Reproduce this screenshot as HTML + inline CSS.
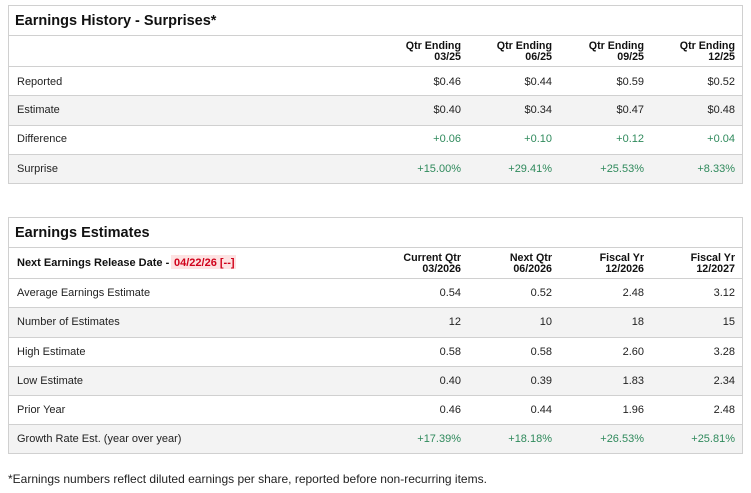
<!DOCTYPE html>
<html><head><meta charset="utf-8">
<style>
*{margin:0;padding:0;box-sizing:border-box}
html,body{width:751px;height:493px;background:#fff;overflow:hidden}
body{position:relative;font-family:"Liberation Sans",Arial,sans-serif;color:#222}
.box{position:absolute;left:8px;width:735px;border:1px solid #d0d0d0;}
.row{position:absolute;left:0;width:733px;border-top:1px solid #d0d0d0}
.alt{background:#f3f3f3}
.t{position:absolute;white-space:nowrap;line-height:1}
.title{font-weight:bold;font-size:14.5px;color:#111;left:6px}
.lab{font-size:11px;left:8px;color:#222}
.v{font-size:11px;text-align:right;width:80px;color:#222}
.g{color:#2f8a5c}
.h{font-size:10.7px;font-weight:bold;text-align:right;width:90px;line-height:10.5px;color:#111}
.c1{left:372px}.c2{left:463px}.c3{left:555px}.c4{left:646px}
.hc1{left:362px}.hc2{left:453px}.hc3{left:545px}.hc4{left:636px}
</style></head><body>

<div class="box" style="top:5px;height:179px">
  <div class="t title" style="top:8px">Earnings History - Surprises*</div>
  <div class="row" style="top:29px;height:31px">
    <div class="t h hc1" style="top:5px">Qtr Ending<br>03/25</div>
    <div class="t h hc2" style="top:5px">Qtr Ending<br>06/25</div>
    <div class="t h hc3" style="top:5px">Qtr Ending<br>09/25</div>
    <div class="t h hc4" style="top:5px">Qtr Ending<br>12/25</div>
  </div>
  <div class="row" style="top:60px;height:30px">
    <div class="t lab" style="top:10px">Reported</div>
    <div class="t v c1" style="top:10px">$0.46</div>
    <div class="t v c2" style="top:10px">$0.44</div>
    <div class="t v c3" style="top:10px">$0.59</div>
    <div class="t v c4" style="top:10px">$0.52</div>
  </div>
  <div class="row alt" style="top:89px;height:30px">
    <div class="t lab" style="top:9px">Estimate</div>
    <div class="t v c1" style="top:9px">$0.40</div>
    <div class="t v c2" style="top:9px">$0.34</div>
    <div class="t v c3" style="top:9px">$0.47</div>
    <div class="t v c4" style="top:9px">$0.48</div>
  </div>
  <div class="row" style="top:119px;height:29px">
    <div class="t lab" style="top:8px">Difference</div>
    <div class="t v g c1" style="top:8px">+0.06</div>
    <div class="t v g c2" style="top:8px">+0.10</div>
    <div class="t v g c3" style="top:8px">+0.12</div>
    <div class="t v g c4" style="top:8px">+0.04</div>
  </div>
  <div class="row alt" style="top:148px;height:29px">
    <div class="t lab" style="top:9px">Surprise</div>
    <div class="t v g c1" style="top:9px">+15.00%</div>
    <div class="t v g c2" style="top:9px">+29.41%</div>
    <div class="t v g c3" style="top:9px">+25.53%</div>
    <div class="t v g c4" style="top:9px">+8.33%</div>
  </div>
</div>

<div class="box" style="top:217px;height:237px">
  <div class="t title" style="top:8px">Earnings Estimates</div>
  <div class="row" style="top:29px;height:31px">
    <div class="t lab" style="top:10px;font-weight:bold;color:#111">Next Earnings Release Date - </div>
    <div class="t" style="left:162px;top:7px;height:14px;width:65px;background:#fde2e2"></div>
    <div class="t" style="left:165px;top:10px;font-size:11px;font-weight:bold;color:#d0021b">04/22/26 [--]</div>
    <div class="t h hc1" style="top:5px">Current Qtr<br>03/2026</div>
    <div class="t h hc2" style="top:5px">Next Qtr<br>06/2026</div>
    <div class="t h hc3" style="top:5px">Fiscal Yr<br>12/2026</div>
    <div class="t h hc4" style="top:5px">Fiscal Yr<br>12/2027</div>
  </div>
  <div class="row" style="top:60px;height:29px">
    <div class="t lab" style="top:9px">Average Earnings Estimate</div>
    <div class="t v c1" style="top:9px">0.54</div>
    <div class="t v c2" style="top:9px">0.52</div>
    <div class="t v c3" style="top:9px">2.48</div>
    <div class="t v c4" style="top:9px">3.12</div>
  </div>
  <div class="row alt" style="top:89px;height:30px">
    <div class="t lab" style="top:9px">Number of Estimates</div>
    <div class="t v c1" style="top:9px">12</div>
    <div class="t v c2" style="top:9px">10</div>
    <div class="t v c3" style="top:9px">18</div>
    <div class="t v c4" style="top:9px">15</div>
  </div>
  <div class="row" style="top:119px;height:29px">
    <div class="t lab" style="top:9px">High Estimate</div>
    <div class="t v c1" style="top:9px">0.58</div>
    <div class="t v c2" style="top:9px">0.58</div>
    <div class="t v c3" style="top:9px">2.60</div>
    <div class="t v c4" style="top:9px">3.28</div>
  </div>
  <div class="row alt" style="top:148px;height:29px">
    <div class="t lab" style="top:9px">Low Estimate</div>
    <div class="t v c1" style="top:9px">0.40</div>
    <div class="t v c2" style="top:9px">0.39</div>
    <div class="t v c3" style="top:9px">1.83</div>
    <div class="t v c4" style="top:9px">2.34</div>
  </div>
  <div class="row" style="top:177px;height:29px">
    <div class="t lab" style="top:9px">Prior Year</div>
    <div class="t v c1" style="top:9px">0.46</div>
    <div class="t v c2" style="top:9px">0.44</div>
    <div class="t v c3" style="top:9px">1.96</div>
    <div class="t v c4" style="top:9px">2.48</div>
  </div>
  <div class="row alt" style="top:206px;height:29px">
    <div class="t lab" style="top:9px">Growth Rate Est. (year over year)</div>
    <div class="t v g c1" style="top:9px">+17.39%</div>
    <div class="t v g c2" style="top:9px">+18.18%</div>
    <div class="t v g c3" style="top:9px">+26.53%</div>
    <div class="t v g c4" style="top:9px">+25.81%</div>
  </div>
</div>

<div class="t" style="left:8px;top:473px;font-size:12px;color:#222">*Earnings numbers reflect diluted earnings per share, reported before non-recurring items.</div>

</body></html>
